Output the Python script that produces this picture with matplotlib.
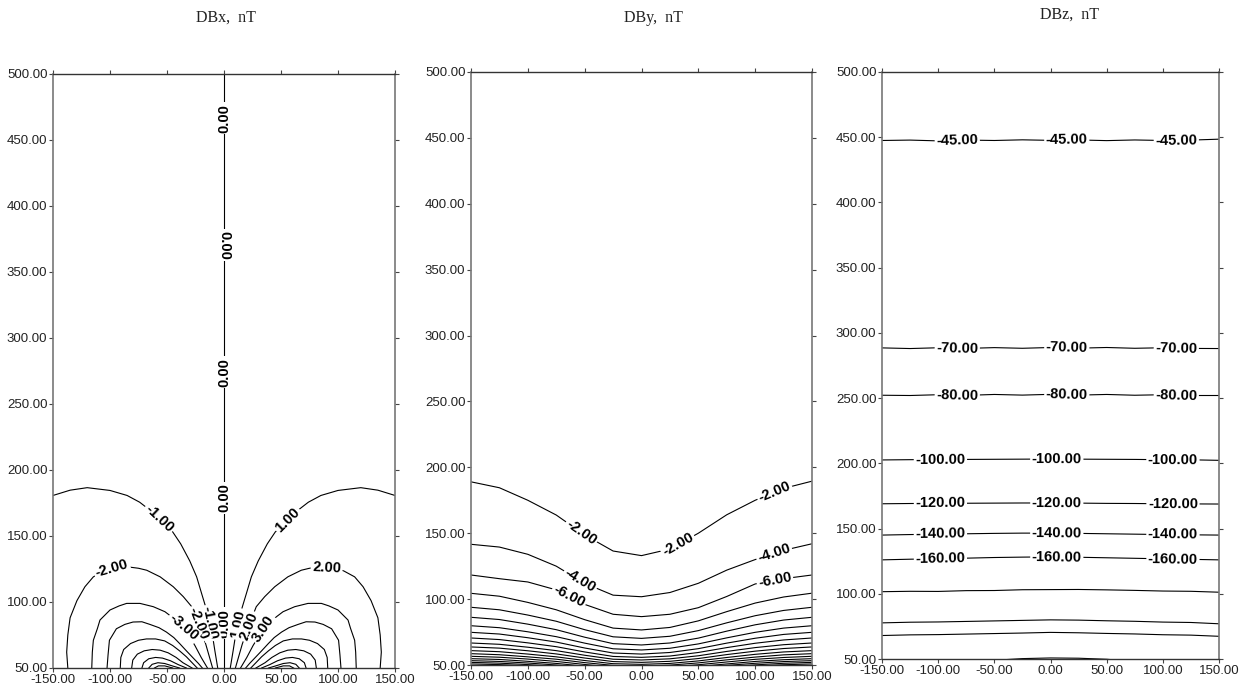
import numpy as np
import matplotlib
matplotlib.use('Agg')
import matplotlib.pyplot as plt


W, H, DPI = 1250, 691, 100

X_TICKS = [-150, -100, -50, 0, 50, 100, 150]
Y_TICKS = [50, 100, 150, 200, 250, 300, 350, 400, 450, 500]
TITLES = ['DBx,  nT', 'DBy,  nT', 'DBz,  nT']

# ---- DBx: contour traces (left = negative levels) ----
DBX_ZERO_X = [0, 0]
DBX_ZERO_Y = [50, 500]
DBX_LEVELS = [1, 2, 3, 4, 5, 6, 7, 8, 9]
DBX_LEFT_X = [
    [-150, -135, -120, -100, -85, -74, -65, -57, -50, -45, -38, -30, -24, -19.5, -16, -12.5, -10, -8, -5.5],
    [-137, -138, -137, -135, -129, -122, -114.6, -105, -95, -84, -75, -67.8, -56, -44.5, -35.7, -28.3, -24.5, -20, -16, -13, -10],
    [-116, -115.5, -114.6, -111, -108.8, -100, -92, -85.4, -73.7, -62, -51.8, -46, -40, -35.7, -30.5, -25.5, -20, -14.5],
    [-102.6, -101.7, -100.5, -94.4, -87, -79.8, -72, -65, -57, -50.5, -44, -38.8, -33, -27.5, -22.5, -19],
    [-91, -90.5, -88, -82, -75, -68, -60, -52, -45, -39, -33, -28, -23.5],
    [-81, -80, -76, -70, -63, -56, -49, -42, -36, -28],
    [-72, -70.5, -66, -60, -54, -47, -40, -33],
    [-66, -63, -58, -52, -45, -39],
    [-61, -57.5, -52, -45],
]
DBX_RIGHT_X = [
    [150, 135, 120, 100, 85, 74, 65, 57, 50, 45, 38, 30, 24, 19.5, 16, 12.5, 10, 8, 5.5],
    [137, 138, 137, 135, 129, 122, 114.6, 105, 95, 84, 75, 67.8, 56, 44.5, 35.7, 28.3, 24.5, 20, 16, 13, 10],
    [116, 115.5, 114.6, 111, 108.8, 100, 92, 85.4, 73.7, 62, 51.8, 46, 40, 35.7, 30.5, 25.5, 20, 14.5],
    [102.6, 101.7, 100.5, 94.4, 87, 79.8, 72, 65, 57, 50.5, 44, 38.8, 33, 27.5, 22.5, 19],
    [91, 90.5, 88, 82, 75, 68, 60, 52, 45, 39, 33, 28, 23.5],
    [81, 80, 76, 70, 63, 56, 49, 42, 36, 28],
    [72, 70.5, 66, 60, 54, 47, 40, 33],
    [66, 63, 58, 52, 45, 39],
    [61, 57.5, 52, 45],
]
DBX_Y = [
    [180.6, 184.6, 186.5, 184.4, 180.6, 175.5, 169.5, 163, 157, 153, 144, 131, 119, 106, 96, 85, 74, 63, 50],
    [50, 62, 75, 88, 101, 111.5, 119, 123.5, 126, 126.5, 125.5, 124, 119, 111.5, 104, 96.4, 88, 78, 68, 59, 50],
    [50, 62, 71, 80, 86.3, 93.9, 97, 98.9, 98.9, 96.4, 92.6, 88.8, 84, 80.8, 74, 67, 58, 50],
    [50, 60, 71, 79.7, 83, 84.8, 85, 83, 80.5, 77.2, 73, 68.4, 63, 58, 53.5, 50],
    [50, 58, 64, 68.5, 71, 72, 72, 70.5, 67, 63, 58.5, 54, 50],
    [50, 56, 60.5, 63, 64, 63.5, 61.5, 58, 54, 50],
    [50, 54, 57, 58, 57.5, 55.5, 52.5, 50],
    [50, 52.8, 54, 53.4, 51.5, 50],
    [50, 51.6, 51.6, 50],
]
# (level, x, y, flip) -- approximate label spots
DBX_LABELS = [
    (0, 0, 466, False), (0, 0, 370, True), (0, 0, 274, False), (0, 0, 179, False), (0, 0, 84, False),
    (-1, -57, 163, False), (-1, -12.5, 84, False), (-2, -98, 124, False), (-2, -24, 83, False),
    (-3, -35.7, 80.8, False),
    (1, 56, 162, False), (1, 11.6, 83.5, False), (2, 90, 124, False), (2, 22.7, 81, False),
    (3, 34.4, 79.7, False),
]

# ---- DBy: one trace per level, y read at fixed x columns ----
DBY_X = [-150, -125, -100, -75, -50, -25, 0, 25, 50, 75, 100, 125, 150]
DBY_LEVELS = [-2, -4, -6, -8, -10, -12, -14, -16, -18, -20, -22, -24, -26, -28, -30, -32, -34, -36]
DBY_Y = [
    [189.0, 184.5, 175.0, 163.8, 148.7, 136.5, 133.0, 138.0, 150.0, 164.0, 175.0, 184.0, 189.5],
    [141.6, 139.5, 134.0, 125.0, 112.0, 103.0, 101.8, 105.0, 112.0, 122.0, 130.0, 137.0, 142.0],
    [118.3, 115.5, 113.0, 107.0, 96.0, 88.5, 86.7, 88.5, 93.5, 102.0, 111.5, 115.5, 118.3],
    [104.4, 102.2, 97.5, 91.9, 84.4, 78.0, 76.6, 78.5, 83.5, 90.5, 97.0, 101.6, 104.5],
    [93.8, 91.9, 87.9, 83.2, 76.8, 71.4, 70.2, 71.8, 76.1, 82.0, 87.4, 91.4, 93.8],
    [86.2, 84.5, 81.0, 76.8, 71.1, 66.2, 65.2, 66.7, 70.4, 75.7, 80.5, 84.1, 86.2],
    [79.8, 78.3, 75.2, 71.5, 66.6, 62.3, 61.4, 62.7, 66.0, 70.6, 74.8, 78.0, 79.8],
    [74.8, 73.5, 70.7, 67.4, 62.9, 59.1, 58.3, 59.5, 62.4, 66.6, 70.3, 73.2, 74.8],
    [70.5, 69.3, 66.8, 63.9, 59.9, 56.5, 55.8, 56.8, 59.5, 63.2, 66.5, 69.0, 70.5],
    [66.7, 65.7, 63.5, 60.9, 57.4, 54.4, 53.8, 54.7, 57.0, 60.3, 63.2, 65.4, 66.7],
    [63.7, 62.8, 60.8, 58.4, 55.3, 52.6, 52.0, 52.8, 54.9, 57.9, 60.5, 62.5, 63.7],
    [60.9, 60.1, 58.3, 56.2, 53.4, 51.0, 50.5, 51.2, 53.1, 55.7, 58.1, 59.9, 60.9],
    [58.6, 57.8, 56.2, 54.4, 51.8, 49.7, 49.2, 49.9, 51.6, 53.9, 56.0, 57.7, 58.6],
    [56.6, 55.9, 54.5, 52.7, 50.4, 48.4, 48.0, 48.6, 50.2, 52.3, 54.3, 55.7, 56.6],
    [54.8, 54.2, 52.8, 51.2, 49.1, 47.3, 46.9, 47.4, 48.9, 50.8, 52.7, 54.0, 54.8],
    [53.3, 52.7, 51.5, 50.0, 48.0, 46.3, 46.0, 46.5, 47.8, 49.7, 51.3, 52.6, 53.3],
    [52.0, 51.4, 50.3, 48.9, 47.0, 45.5, 45.2, 45.6, 46.8, 48.6, 50.1, 51.3, 52.0],
    [50.8, 50.3, 49.3, 48.0, 46.2, 44.8, 44.5, 44.9, 46.0, 47.7, 49.1, 50.2, 50.8],
]
DBY_LABELS = [
    (-2, -53.5, 150), (-2, 32.3, 141), (-2, 118, 178.5),
    (-4, -54, 114.5), (-4, 116.5, 135.2),
    (-6, -64.4, 100.6), (-6, 117.4, 114),
]

# ---- DBz: nearly flat lines ----
DBZ_X = [-150, -125, -100, -75, -50, -25, 0, 25, 50, 75, 100, 125, 150]
DBZ_LEVELS = [-45, -70, -80, -100, -120, -140, -160]
DBZ_Y = [
    [447.5, 447.8, 447.2, 447.8, 447.5, 448.0, 447.6, 447.9, 447.4, 447.9, 447.5, 447.8, 448.5],
    [288.5, 288.0, 288.6, 288.1, 288.7, 288.2, 288.8, 288.3, 288.8, 288.2, 288.6, 288.1, 288.0],
    [252.2, 252.0, 252.6, 252.1, 252.8, 252.3, 252.9, 252.3, 252.8, 252.2, 252.6, 252.0, 252.0],
    [202.6, 202.8, 202.9, 203.0, 203.1, 203.2, 203.3, 203.2, 203.1, 203.0, 202.8, 202.7, 202.3],
    [169.0, 169.2, 169.3, 169.4, 169.5, 169.6, 169.6, 169.5, 169.3, 169.2, 169.0, 168.9, 168.8],
    [145.0, 145.4, 145.7, 146.0, 146.3, 146.5, 146.5, 146.3, 146.0, 145.7, 145.4, 145.2, 145.0],
    [126.0, 126.5, 126.9, 127.3, 127.8, 128.1, 128.3, 128.0, 127.6, 127.2, 126.8, 126.4, 126.0],
]
DBZ_EXTRA_Y = [
    [101.6, 101.9, 101.8, 102.4, 102.5, 103.1, 103.2, 103.3, 103.0, 102.6, 102.1, 101.9, 101.2],
    [77.7, 78.2, 78.4, 78.8, 79.2, 79.6, 80.0, 79.8, 79.3, 78.9, 78.3, 78.0, 77.0],
    [68.0, 68.5, 68.7, 69.1, 69.5, 69.9, 70.4, 70.1, 69.6, 69.2, 68.6, 68.3, 67.4],
    [45.0, 46.0, 47.0, 48.0, 49.0, 50.3, 50.8, 50.6, 49.8, 48.0, 47.0, 46.0, 45.0],
]
DBZ_LABEL_X_TOP = [-83, 14.5, 112]     # -45, -70, -80
DBZ_LABEL_X_LOW = [-98, 5.6, 109]      # -100 ... -160

# axes boxes in pixels: (left, right, top, bottom)
PANELS = [(53, 395, 73.5, 668), (471, 812, 72, 665), (882, 1219, 72, 659)]
TITLE_POS = [(226, 18), (653, 18), (1070, 15)]

LINE_KW = dict(color='black', lw=0.8, solid_joinstyle='round')
LABEL_FONT = dict(family=['Liberation Sans Narrow', 'Liberation Sans'],
                  fontsize=10.5, fontweight='bold', color='black')


def put_label(ax, xs, ys, px, py, text, flip=False):
    # snap to the nearest segment of the trace and follow its direction
    xs = np.asarray(xs, float)
    ys = np.asarray(ys, float)
    best = None
    for i in range(len(xs) - 1):
        x0, y0 = xs[i], ys[i]
        dx, dy = xs[i + 1] - x0, ys[i + 1] - y0
        l2 = dx * dx + dy * dy
        t = 0.0 if l2 == 0 else np.clip(((px - x0) * dx + (py - y0) * dy) / l2, 0, 1)
        qx, qy = x0 + t * dx, y0 + t * dy
        d = (qx - px) ** 2 + (qy - py) ** 2
        if best is None or d < best[0]:
            best = (d, qx, qy, dx, dy)
    _, qx, qy, dx, dy = best
    ang = np.degrees(np.arctan2(dy, dx))
    if ang > 90:
        ang -= 180
    elif ang <= -90:
        ang += 180
    if flip:
        ang -= 180
    ax.text(qx, qy, text, rotation=ang, transform_rotates_text=True,
            rotation_mode='anchor', ha='center', va='center', zorder=5,
            bbox=dict(facecolor='white', edgecolor='none', pad=1.2),
            **LABEL_FONT)


def style_axes(ax):
    ax.set_xlim(-150, 150)
    ax.set_ylim(50, 500)
    ax.set_xticks(X_TICKS)
    ax.set_xticklabels([f'{v:.2f}' for v in X_TICKS])
    ax.set_yticks(Y_TICKS)
    ax.set_yticklabels([f'{v:.2f}' for v in Y_TICKS])
    ax.tick_params(direction='out', length=3, width=0.8, top=True, right=True,
                   labeltop=False, labelright=False, pad=1, labelsize=9.5,
                   colors='#444', labelcolor='#222')
    for lab in ax.get_xticklabels() + ax.get_yticklabels():
        lab.set_family('Liberation Sans')
    for side in ('left', 'right'):
        ax.spines[side].set_color('#777')
        ax.spines[side].set_linewidth(1.2)
    for side in ('top', 'bottom'):
        ax.spines[side].set_color('#333')
        ax.spines[side].set_linewidth(1.0)


def draw_dbx(ax):
    ax.plot(DBX_ZERO_X, DBX_ZERO_Y, **LINE_KW)
    for xs, ys in zip(DBX_LEFT_X, DBX_Y):
        ax.plot(xs, ys, **LINE_KW)
    for xs, ys in zip(DBX_RIGHT_X, DBX_Y):
        ax.plot(xs, ys, **LINE_KW)
    for level, px, py, flip in DBX_LABELS:
        if level == 0:
            xs, ys = DBX_ZERO_X, DBX_ZERO_Y
        elif level < 0:
            k = DBX_LEVELS.index(-level)
            xs, ys = DBX_LEFT_X[k], DBX_Y[k]
        else:
            k = DBX_LEVELS.index(level)
            xs, ys = DBX_RIGHT_X[k], DBX_Y[k]
        put_label(ax, xs, ys, px, py, f'{level:.2f}', flip)


def draw_dby(ax):
    for ys in DBY_Y:
        ax.plot(DBY_X, ys, **LINE_KW)
    for level, px, py in DBY_LABELS:
        ys = DBY_Y[DBY_LEVELS.index(level)]
        put_label(ax, DBY_X, ys, px, py, f'{level:.2f}')


def draw_dbz(ax):
    for ys in DBZ_Y + DBZ_EXTRA_Y:
        ax.plot(DBZ_X, ys, **LINE_KW)
    for i, (level, ys) in enumerate(zip(DBZ_LEVELS, DBZ_Y)):
        label_x = DBZ_LABEL_X_TOP if i < 3 else DBZ_LABEL_X_LOW
        for px in label_x:
            py = np.interp(px, DBZ_X, ys)
            put_label(ax, DBZ_X, ys, px, py, f'{level:.2f}')


def main():
    fig = plt.figure(figsize=(W / DPI, H / DPI), dpi=DPI)
    fig.patch.set_facecolor('white')

    drawers = [draw_dbx, draw_dby, draw_dbz]
    for (l, r, t, b), draw, title, (tx, ty) in zip(PANELS, drawers, TITLES, TITLE_POS):
        ax = fig.add_axes([l / W, 1 - b / H, (r - l) / W, (b - t) / H])
        style_axes(ax)
        draw(ax)
        fig.text(tx / W, 1 - ty / H, title, ha='center', va='center',
                 family='Liberation Serif', fontsize=11.5, color='#222')

    fig.savefig('out.png', dpi=DPI, facecolor='white')
    plt.close(fig)


if __name__ == "__main__":
    main()
